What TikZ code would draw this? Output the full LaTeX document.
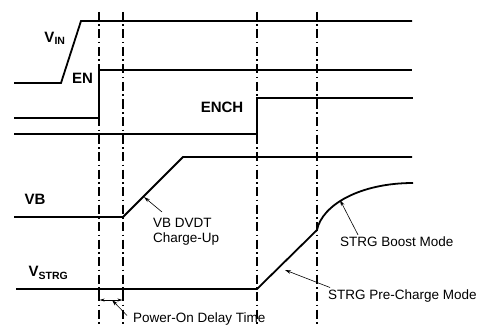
\documentclass[tikz,border=0pt]{standalone}
\usepackage{fontspec}
\setmainfont{Liberation Sans}
\usetikzlibrary{arrows.meta}
\tikzset{
	sig/.style={line width=1.8pt},
	dashline/.style={line width=1.6pt, dash pattern=on 9pt off 3.5pt on 1.5pt off 3.5pt},
	lbl/.style={font=\fontsize{15}{17}\selectfont\bfseries, inner sep=0pt},
	note/.style={font=\fontsize{13.5}{15.5}\selectfont, inner sep=0pt, align=left},
	pointer/.style={line width=0.6pt, -{Stealth[length=6pt,width=3.5pt]}}
}
\begin{document}
\begin{tikzpicture}[x=1pt,y=-1pt]
\useasboundingbox (0,0) rectangle (489,326);
\foreach \t in {99,123,257,317}
	\draw[dashline] (\t,12) -- (\t,326);
% signals
\draw[sig] (14,83) -- (61,83) -- (81,21) -- (412,21);
\draw[sig] (14,118) -- (99,118) -- (99,70) -- (412,70);
\draw[sig] (14,134) -- (257,134) -- (257,98) -- (413,98);
\draw[sig] (14,217) -- (123,217) -- (183,157) -- (412,157);
\draw[sig] (16,289) -- (257,289) -- (317,230) .. controls (322,205) and (360,183) .. (413,183);
\node[lbl] (vin) at (55,38) {V\textsubscript{IN}};
\node[lbl] (en) at (82.5,78.5) {EN};
\node[lbl] (ench) at (222,107.5) {ENCH};
\node[lbl] (vb) at (35,199) {VB};
\node[lbl] (vstrg) at (48.5,273) {V\textsubscript{STRG}};
% delay
\draw[line width=1.2pt] (99,289) -- (99,301) (123,289) -- (123,301);
\draw[line width=0.6pt, {Stealth[length=5pt,width=3pt]}-{Stealth[length=5pt,width=3pt]}] (99.6,300) -- (122.4,300);
\node[note, anchor=west] (delay) at (133,319) {Power-On Delay Time};
\draw[pointer] ([xshift=-6pt,yshift=-3pt]delay.north west) -- (112,300);
% notes
\node[note, anchor=north west] (dvdt) at (153,218) {VB DVDT\\Charge-Up};
\draw[pointer] ([xshift=9pt,yshift=6pt]dvdt.north west) -- (144,197);
\node[note, anchor=west] (boost) at (340,242) {STRG Boost Mode};
\draw[pointer] ([xshift=18pt,yshift=2pt]boost.north west) -- (340,200);
\node[note, anchor=west] (precharge) at (328,296) {STRG Pre-Charge Mode};
\draw[pointer] ([xshift=2pt,yshift=2pt]precharge.north west) -- (285,270);
\end{tikzpicture}
\end{document}
